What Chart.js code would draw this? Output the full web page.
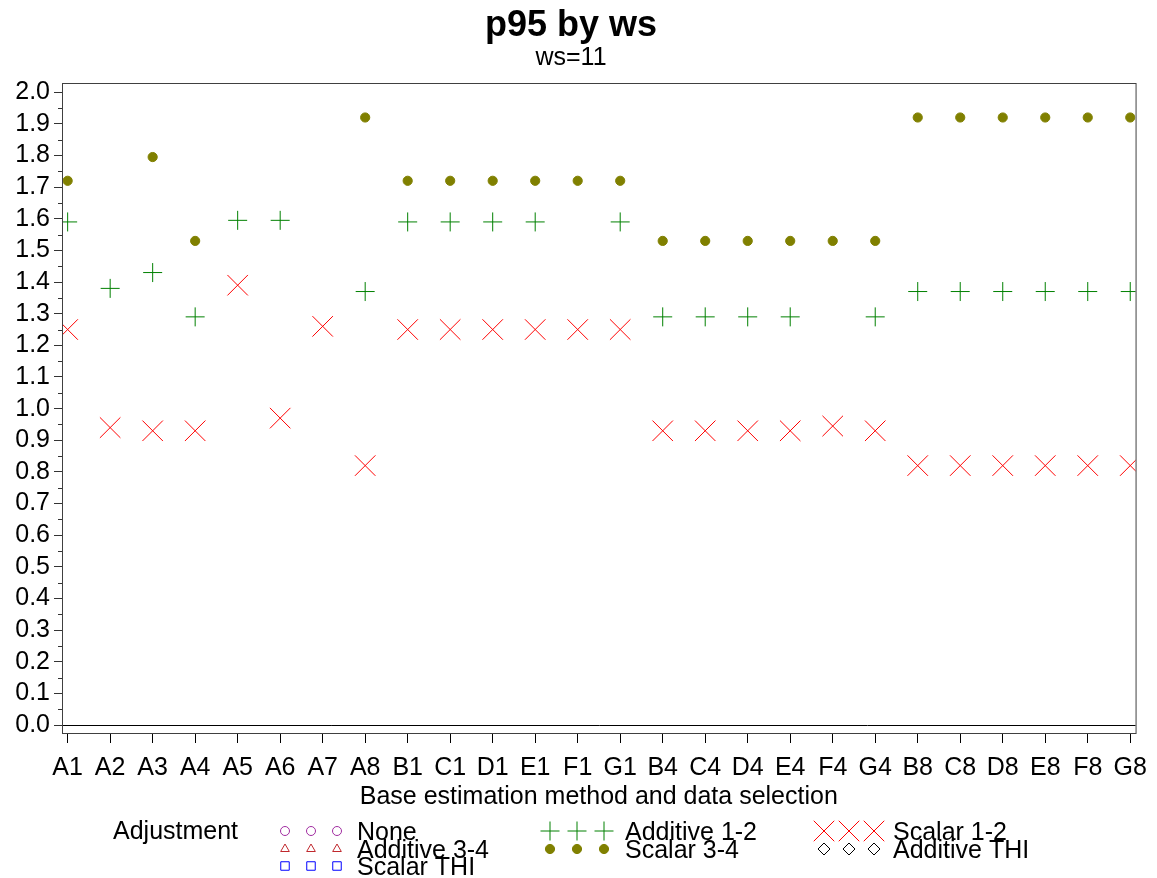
<!DOCTYPE html>
<html>
<head>
<meta charset="utf-8">
<title>p95 by ws</title>
<script src="https://cdn.jsdelivr.net/npm/chart.js@4.4.1/dist/chart.umd.min.js"></script>
<style>
  html, body { margin: 0; padding: 0; background: #fff; }
  #chart { display: block; }
</style>
</head>
<body>
<canvas id="chart" width="1157" height="878"></canvas>
<script>
// categories on the x axis (method + data selection)
const categories = ['A1', 'A2', 'A3', 'A4', 'A5', 'A6', 'A7', 'A8',
  'B1', 'C1', 'D1', 'E1', 'F1', 'G1',
  'B4', 'C4', 'D4', 'E4', 'F4', 'G4',
  'B8', 'C8', 'D8', 'E8', 'F8', 'G8'];

// p95 values per adjustment, null = no point
const additive12 = [1.59, 1.38, 1.43, 1.29, 1.595, 1.595, null, 1.37,
  1.59, 1.59, 1.59, 1.59, null, 1.59,
  1.29, 1.29, 1.29, 1.29, null, 1.29,
  1.37, 1.37, 1.37, 1.37, 1.37, 1.37];
const scalar12 = [1.25, 0.94, 0.93, 0.93, 1.39, 0.97, 1.26, 0.82,
  1.25, 1.25, 1.25, 1.25, 1.25, 1.25,
  0.93, 0.93, 0.93, 0.93, 0.945, 0.93,
  0.82, 0.82, 0.82, 0.82, 0.82, 0.82];
const scalar34 = [1.72, null, 1.795, 1.53, null, null, null, 1.92,
  1.72, 1.72, 1.72, 1.72, 1.72, 1.72,
  1.53, 1.53, 1.53, 1.53, 1.53, 1.53,
  1.92, 1.92, 1.92, 1.92, 1.92, 1.92];
// no values for these in this panel
const none = [];
const additive34 = [];
const additiveTHI = [];
const scalarTHI = [];

// minor tick values between the labelled ones
const minorTicks = [];
for (let k = 0; k < 20; k++) minorTicks.push(k / 10 + 0.05);

const FONT = "'Liberation Sans', Arial, sans-serif";

function toPoints(values) {
  const pts = [];
  values.forEach((v, i) => {
    if (v !== null && v !== undefined) pts.push({ x: i, y: v });
  });
  return pts;
}

function series(label, values, style, color, radius, filled) {
  return {
    label: label,
    data: toPoints(values),
    showLine: false,
    pointStyle: style,
    pointRadius: radius,
    pointHoverRadius: radius,
    borderColor: color,
    backgroundColor: filled ? color : 'rgba(0,0,0,0)',
    pointBorderWidth: 1
  };
}

// order matches the legend (row by row)
const datasets = [
  series('None', none, 'circle', '#a02ca0', 4.5, false),
  series('Additive 1-2', additive12, 'cross', '#008000', 9.5, false),
  series('Scalar 1-2', scalar12, 'crossRot', '#ff0000', 14.5, false),
  series('Additive 3-4', additive34, 'triangle', '#c0282d', 5, false),
  series('Scalar 3-4', scalar34, 'circle', '#808000', 4.6, true),
  series('Additive THI', additiveTHI, 'rectRot', '#000000', 6, false),
  series('Scalar THI', scalarTHI, 'rect', '#0000ff', 6, false)
];

// box round the plot area + short minor ticks on the y axis
const framePlugin = {
  id: 'frame',
  afterDraw(chart) {
    const { ctx, chartArea: a } = chart;
    const y = chart.scales.y;
    ctx.save();
    ctx.strokeStyle = '#404040';
    ctx.lineWidth = 1;
    ctx.strokeRect(a.left + 0.5, a.top + 0.5, a.right - a.left, a.bottom - a.top);
    ctx.strokeStyle = '#333';
    ctx.beginPath();
    minorTicks.forEach(v => {
      const py = Math.round(y.getPixelForValue(v)) + 0.5;
      ctx.moveTo(a.left - 4, py);
      ctx.lineTo(a.left, py);
    });
    ctx.stroke();
    ctx.restore();
  }
};

// SAS style legend: label, then three symbols + text, three columns
const sasLegend = {
  id: 'sasLegend',
  afterDraw(chart) {
    const ctx = chart.ctx;
    const symX = [[285, 311, 337], [550, 577, 604], [824, 849, 874]];
    const textX = [357, 625, 893];
    const rowY = [831, 849, 866];
    ctx.save();
    ctx.fillStyle = '#000';
    ctx.font = '25px ' + FONT;
    ctx.textBaseline = 'middle';
    ctx.textAlign = 'left';
    ctx.fillText('Adjustment', 113, 832);
    chart.data.datasets.forEach((ds, i) => {
      const col = i % 3, row = Math.floor(i / 3);
      const y = rowY[row];
      symX[col].forEach(x => {
        ctx.strokeStyle = ds.borderColor;
        ctx.fillStyle = ds.backgroundColor;
        ctx.lineWidth = 1;
        Chart.helpers.drawPoint(ctx, {
          pointStyle: ds.pointStyle,
          radius: ds.pointRadius,
          rotation: 0,
          borderWidth: 1
        }, x, y);
      });
      ctx.fillStyle = '#000';
      ctx.fillText(ds.label, textX[col], y + 2);
    });
    ctx.restore();
  }
};

new Chart(document.getElementById('chart'), {
  type: 'scatter',
  data: { datasets: datasets },
  plugins: [framePlugin, sasLegend],
  options: {
    responsive: false,
    animation: false,
    devicePixelRatio: 1,
    layout: { padding: { left: 0, right: 15, top: 0, bottom: 66 } },
    plugins: {
      legend: { display: false },
      tooltip: { enabled: false },
      title: {
        display: true,
        text: 'p95 by ws',
        color: '#000',
        font: { family: FONT, size: 36, weight: 'bold', lineHeight: 1.0 },
        padding: { top: 8, bottom: 2 }
      },
      subtitle: {
        display: true,
        text: 'ws=11',
        color: '#000',
        font: { family: FONT, size: 25, lineHeight: 1.0 },
        padding: { top: 0, bottom: 12 }
      }
    },
    scales: {
      x: {
        type: 'linear',
        min: -0.133,
        max: 25.125,
        afterFit(scale) { scale.height = 79; },
        border: { display: true, color: '#000' },
        grid: { display: true, drawOnChartArea: false, tickLength: 10, tickColor: '#000' },
        ticks: {
          stepSize: 1,
          autoSkip: false,
          maxRotation: 0,
          includeBounds: false,
          padding: 10,
          color: '#000',
          font: { family: FONT, size: 25 },
          callback: v => categories[v] ?? ''
        },
        title: {
          display: true,
          text: 'Base estimation method and data selection',
          color: '#000',
          font: { family: FONT, size: 25 },
          padding: { top: 0, bottom: 0 }
        }
      },
      y: {
        type: 'linear',
        min: -0.025,
        max: 2.029,
        afterFit(scale) { scale.width = 62; },
        border: { display: true, color: '#000' },
        grid: {
          display: true,
          drawOnChartArea: true,
          tickLength: 8,
          tickColor: '#333',
          color: c => (c.tick && c.tick.value === 0 ? '#000' : 'rgba(0,0,0,0)')
        },
        ticks: {
          stepSize: 0.1,
          autoSkip: false,
          includeBounds: false,
          padding: 4,
          color: '#000',
          font: { family: FONT, size: 25 },
          callback: v => v.toFixed(1)
        }
      }
    }
  }
});
</script>
</body>
</html>
